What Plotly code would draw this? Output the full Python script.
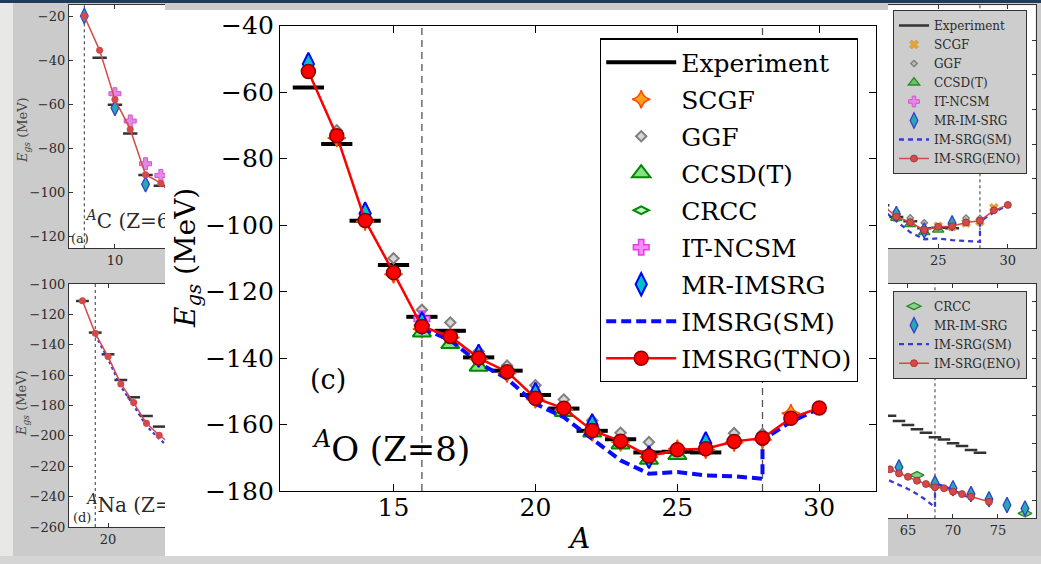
import plotly.graph_objects as go

W, H = 1041, 564


def px(x):
    return x / W


def py(y):
    return 1 - y / H


# ---------------- Oxygen chain (Z=8) ----------------
A_exp = [12, 13, 14, 15, 16, 17, 18, 19, 20, 21, 22, 23, 24, 25, 26]
E_exp = [-58.6, -75.6, -98.7, -112.0, -127.6, -131.8, -139.8, -143.8,
         -151.1, -155.2, -161.9, -164.4, -168.4, -168.2, -168.4]

A_scgf = [13, 14, 15, 16, 17, 18, 19, 20, 21, 22, 23, 24, 25, 26, 27, 28, 29]
E_scgf = [-73.8, -98.9, -114.8, -131.3, -133.8, -140.3, -144.6, -152.4, -155.5,
          -162.3, -165.3, -169.8, -167.3, -167.6, -165.4, -164.6, -156.6]

A_ggf = [13, 15, 16, 17, 18, 19, 20, 21, 22, 23, 24, 27, 28]
E_ggf = [-71.5, -110.0, -125.5, -129.3, -138.0, -142.3, -148.2, -152.5,
         -158.8, -162.5, -165.3, -162.6, -162.8]

A_ccsdt = [16, 17, 18, 21, 22, 23, 24, 25]
E_ccsdt = [-132.3, -135.8, -142.6, -156.2, -162.4, -166.0, -170.6, -169.2]

A_crcc = [16, 22, 24, 28]
E_crcc = [-130.2, -161.8, -168.9, -164.2]

A_ncsm = [16]
E_ncsm = [-128.2]

A_mr = [12, 14, 16, 18, 20, 22, 24, 26]
E_mr = [-51.5, -96.5, -129.5, -139.3, -150.8, -160.2, -169.8, -165.6]

A_sm = [16, 17, 18, 19, 20, 21, 22, 23, 24, 25, 26, 27, 28, 28, 29, 30]
E_sm = [-131.0, -134.6, -141.5, -146.2, -153.8, -157.8, -164.3, -170.8,
        -174.8, -174.3, -175.3, -175.6, -176.3, -164.6, -159.2, -155.2]

A_tno = [12, 13, 14, 15, 16, 17, 18, 19, 20, 21, 22, 23, 24, 25, 26, 27, 28, 29, 30]
E_tno = [-53.8, -73.1, -98.6, -114.3, -130.5, -133.5, -140.0, -144.1, -152.1,
         -155.1, -161.8, -165.0, -169.5, -167.6, -167.3, -165.1, -164.1, -158.1, -155.0]

O_closures = [16, 28]

# ---------------- Carbon chain (Z=6) ----------------
C_A_exp = [9, 10, 11, 12, 13]
C_E_exp = [-39.0, -60.3, -73.4, -92.2, -97.1]
C_A_eno = [8, 9, 10, 11, 12, 13, 14]
C_E_eno = [-20.0, -35.6, -57.9, -71.5, -92.1, -95.9, -103.0]
C_A_mr = [8, 10, 12]
C_E_mr = [-20.0, -61.8, -96.4]
C_A_ncsm = [10, 11, 12, 13]
C_E_ncsm = [-55.3, -67.7, -87.1, -92.4]

# ---------------- Sodium chain (Z=11) ----------------
Na_A_exp = [18, 19, 20, 21, 22, 23, 24]
Na_E_exp = [-111.2, -132.0, -146.3, -163.2, -174.6, -186.9, -193.9]
Na_A_eno = [18, 19, 20, 21, 22, 23, 24, 25]
Na_E_eno = [-111.0, -132.5, -147.8, -165.8, -178.1, -191.7, -199.6, -206.0]
Na_A_sm = [19, 20, 21, 22, 23, 24, 25]
Na_E_sm = [-133.5, -149.3, -167.5, -180.0, -193.5, -202.0, -209.0]

# ---------------- Nickel chain (Z=28) ----------------
Ni_A_exp = [63, 64, 65, 66, 67, 68, 69, 70, 71, 72, 73]
Ni_E_exp = [-560.5, -564.2, -567.1, -570.1, -572.5, -575.7, -577.2, -580.0,
            -581.9, -584.7, -586.6]
Ni_A_eno = [62, 63, 64, 65, 66, 67, 68, 69, 70, 71, 72, 74]
Ni_E_eno = [-595.5, -598.3, -601.2, -603.6, -606.4, -608.7, -611.0, -611.7,
            -614.1, -615.8, -617.7, -621.2]
Ni_A_mr = [64, 68, 70, 72, 74, 76, 78]
Ni_E_mr = [-596.9, -608.2, -611.7, -615.8, -619.5, -623.5, -625.9]
Ni_A_crcc = [66, 68, 78]
Ni_E_crcc = [-602.4, -610.1, -629.4]
Ni_A_sm = [62, 63, 64, 65, 66, 67, 68, 68, 69, 70, 71, 72]
Ni_E_sm = [-603.5, -606.4, -609.4, -612.2, -615.8, -620.0, -625.2, -608.2,
           -610.1, -613.0, -615.8, -618.8]

SERIF = "DejaVu Serif"
BG = "#cbcbcb"
DARK = "#2a2a2a"


def bars(A, E, hw):
    xs, ys = [], []
    for a, e in zip(A, E):
        xs += [a - hw, a + hw, None]
        ys += [e, e, None]
    return xs, ys


fig = go.Figure()

# ================= background panels =================
# (a) carbon
xa, ya = "x2", "y2"
bx, by = bars(C_A_exp, C_E_exp, 0.47)
fig.add_trace(go.Scatter(x=bx, y=by, mode="lines", line=dict(color="#333", width=2.5),
                         xaxis=xa, yaxis=ya, showlegend=False))
fig.add_trace(go.Scatter(x=C_A_ncsm, y=C_E_ncsm, mode="markers", xaxis=xa, yaxis=ya,
                         marker=dict(symbol="cross", size=10, color="#e487e4",
                                     line=dict(color="#d055d0", width=1)), showlegend=False))
fig.add_trace(go.Scatter(x=C_A_mr, y=C_E_mr, mode="markers", xaxis=xa, yaxis=ya,
                         marker=dict(symbol="diamond-tall", size=11, color="#2aa8b0",
                                     line=dict(color="#2d42d0", width=1.3)), showlegend=False))
fig.add_trace(go.Scatter(x=C_A_eno, y=C_E_eno, mode="lines+markers", xaxis=xa, yaxis=ya,
                         line=dict(color="#d44a4a", width=1.5),
                         marker=dict(size=7, color="#d44a4a"), showlegend=False))
fig.add_trace(go.Scatter(x=[8.15, 7.13], y=[-114.0, -121.5], mode="text", xaxis=xa, yaxis=ya,
                         text=["<sup><i>A</i></sup>C (Z=6)", "(a)"],
                         textposition="middle right",
                         textfont=dict(family=SERIF, size=[20, 13], color=DARK),
                         showlegend=False))

# (d) sodium
xa, ya = "x3", "y3"
bx, by = bars(Na_A_exp, Na_E_exp, 0.5)
fig.add_trace(go.Scatter(x=bx, y=by, mode="lines", line=dict(color="#333", width=2.5),
                         xaxis=xa, yaxis=ya, showlegend=False))
fig.add_trace(go.Scatter(x=Na_A_sm, y=Na_E_sm, mode="lines", xaxis=xa, yaxis=ya,
                         line=dict(color="#3838d8", width=2.2, dash="3px,3px"), showlegend=False))
fig.add_trace(go.Scatter(x=Na_A_eno, y=Na_E_eno, mode="lines+markers", xaxis=xa, yaxis=ya,
                         line=dict(color="#d44a4a", width=1.5),
                         marker=dict(size=7, color="#d44a4a"), showlegend=False))
fig.add_trace(go.Scatter(x=[18.38, 17.26], y=[-247.0, -254.5], mode="text", xaxis=xa, yaxis=ya,
                         text=["<sup><i>A</i></sup>Na (Z=11)", "(d)"],
                         textposition="middle right",
                         textfont=dict(family=SERIF, size=[20, 13], color=DARK),
                         showlegend=False))

# (c) oxygen, full-size panel with its own legend
xa, ya = "x4", "y4"
bx, by = bars(A_exp, E_exp, 0.5)
fig.add_trace(go.Scatter(x=bx, y=by, mode="lines", line=dict(color="#333", width=2.5),
                         xaxis=xa, yaxis=ya, name="Experiment", legend="legend2"))
fig.add_trace(go.Scatter(x=A_scgf, y=E_scgf, mode="markers", xaxis=xa, yaxis=ya,
                         name="SCGF", legend="legend2",
                         marker=dict(symbol="x", size=8, color="#e4a23a",
                                     line=dict(color="#d08a20", width=0.5))))
fig.add_trace(go.Scatter(x=A_ggf, y=E_ggf, mode="markers", xaxis=xa, yaxis=ya,
                         name="GGF", legend="legend2",
                         marker=dict(symbol="diamond", size=5, color="#b8b8b8",
                                     line=dict(color="#7a7a7a", width=1.2))))
fig.add_trace(go.Scatter(x=A_ccsdt, y=E_ccsdt, mode="markers", xaxis=xa, yaxis=ya,
                         name="CCSD(T)", legend="legend2",
                         marker=dict(symbol="triangle-up", size=10, color="#68c468",
                                     line=dict(color="#2a8a2a", width=1.3))))
fig.add_trace(go.Scatter(x=A_ncsm, y=E_ncsm, mode="markers", xaxis=xa, yaxis=ya,
                         name="IT-NCSM", legend="legend2",
                         marker=dict(symbol="cross", size=9, color="#e487e4",
                                     line=dict(color="#d055d0", width=1))))
fig.add_trace(go.Scatter(x=A_mr, y=E_mr, mode="markers", xaxis=xa, yaxis=ya,
                         name="MR-IM-SRG", legend="legend2",
                         marker=dict(symbol="diamond-tall", size=11, color="#2aa8b0",
                                     line=dict(color="#2d42d0", width=1.3))))
fig.add_trace(go.Scatter(x=A_sm, y=E_sm, mode="lines", xaxis=xa, yaxis=ya,
                         name="IM-SRG(SM)", legend="legend2",
                         line=dict(color="#3838d8", width=2.3, dash="5px,4px")))
fig.add_trace(go.Scatter(x=A_tno, y=E_tno, mode="lines+markers", xaxis=xa, yaxis=ya,
                         name="IM-SRG(ENO)", legend="legend2",
                         line=dict(color="#d44a4a", width=1.5),
                         marker=dict(size=7, color="#d44a4a",
                                     line=dict(color="#a03030", width=0.8))))

# (f) nickel
xa, ya = "x5", "y5"
bx, by = bars(Ni_A_exp, Ni_E_exp, 0.7)
fig.add_trace(go.Scatter(x=bx, y=by, mode="lines", line=dict(color="#333", width=2.5),
                         xaxis=xa, yaxis=ya, showlegend=False))
fig.add_trace(go.Scatter(x=Ni_A_crcc, y=Ni_E_crcc, mode="markers", xaxis=xa, yaxis=ya,
                         name="CRCC", legend="legend3",
                         marker=dict(symbol="diamond-wide", size=10, color="#8ad08a",
                                     line=dict(color="#2a8a2a", width=1.3))))
fig.add_trace(go.Scatter(x=Ni_A_mr, y=Ni_E_mr, mode="markers", xaxis=xa, yaxis=ya,
                         name="MR-IM-SRG", legend="legend3",
                         marker=dict(symbol="diamond-tall", size=11, color="#2aa8b0",
                                     line=dict(color="#2d42d0", width=1.3))))
fig.add_trace(go.Scatter(x=Ni_A_sm, y=Ni_E_sm, mode="lines", xaxis=xa, yaxis=ya,
                         name="IM-SRG(SM)", legend="legend3",
                         line=dict(color="#3838d8", width=2.3, dash="5px,4px")))
fig.add_trace(go.Scatter(x=Ni_A_eno, y=Ni_E_eno, mode="lines+markers", xaxis=xa, yaxis=ya,
                         name="IM-SRG(ENO)", legend="legend3",
                         line=dict(color="#d44a4a", width=1.5),
                         marker=dict(size=7, color="#d44a4a",
                                     line=dict(color="#a03030", width=0.8))))

# ================= main oxygen panel =================
bx, by = bars(A_exp, E_exp, 0.55)
fig.add_trace(go.Scatter(x=bx, y=by, mode="lines", name="Experiment", legendgroup="g1",
                         line=dict(color="black", width=4)))
fig.add_trace(go.Scatter(x=A_scgf, y=E_scgf, mode="markers", name="SCGF", legendgroup="g2",
                         marker=dict(symbol="star-diamond", size=13, color="#ffa21a",
                                     line=dict(color="#ff4a00", width=1.5))))
fig.add_trace(go.Scatter(x=A_ggf, y=E_ggf, mode="markers", name="GGF", legendgroup="g3",
                         marker=dict(symbol="diamond", size=8, color="#d6d6d6",
                                     line=dict(color="#7f7f7f", width=2))))
fig.add_trace(go.Scatter(x=A_ccsdt, y=E_ccsdt, mode="markers", name="CCSD(T)", legendgroup="g4",
                         marker=dict(symbol="triangle-up", size=16, color="#86e086",
                                     line=dict(color="#008a00", width=2))))
fig.add_trace(go.Scatter(x=A_crcc, y=E_crcc, mode="markers", name="CRCC", legendgroup="g5",
                         marker=dict(symbol="diamond-wide", size=11, color="#c6f0c6",
                                     line=dict(color="#008a00", width=2))))
fig.add_trace(go.Scatter(x=A_ncsm, y=E_ncsm, mode="markers", name="IT-NCSM", legendgroup="g6",
                         marker=dict(symbol="cross", size=13, color="#ff88ff",
                                     line=dict(color="#e040e0", width=1.5))))
fig.add_trace(go.Scatter(x=A_mr, y=E_mr, mode="markers", name="MR-IMSRG", legendgroup="g7",
                         marker=dict(symbol="diamond-tall", size=16, color="#00c0c8",
                                     line=dict(color="#0000ff", width=2))))
fig.add_trace(go.Scatter(x=A_sm, y=E_sm, mode="lines", name="IMSRG(SM)", legendgroup="g8",
                         line=dict(color="#0a0aff", width=4, dash="10px,5px")))
fig.add_trace(go.Scatter(x=A_tno, y=E_tno, mode="lines+markers", name="IMSRG(TNO)",
                         legendgroup="g9",
                         line=dict(color="#ff0000", width=2.5),
                         marker=dict(size=14, color="#ff0000",
                                     line=dict(color="#8b0000", width=1.5))))

# ================= axes =================
tick_main = dict(family=SERIF, size=25, color="black")
tick_bg = dict(family=SERIF, size=13, color=DARK)

main_x = dict(domain=[px(280), px(876)], range=[11, 32], tick0=0, dtick=5,
              ticks="inside", ticklen=7, tickwidth=1.2, tickcolor="black",
              showline=True, linecolor="black", linewidth=1.3, mirror="ticks",
              showgrid=False, zeroline=False, tickfont=tick_main, automargin=False,
              ticklabelstandoff=-6)
main_y = dict(domain=[py(491), py(25.7)], range=[-180, -40], tick0=0, dtick=20,
              ticks="inside", ticklen=7, tickwidth=1.2, tickcolor="black",
              showline=True, linecolor="black", linewidth=1.3, mirror="ticks",
              showgrid=False, zeroline=False, tickfont=tick_main, automargin=False)


def bg_axis(**kw):
    base = dict(ticks="inside", ticklen=4, tickwidth=1, tickcolor="#333",
                showline=True, linecolor="#333", linewidth=1.2,
                showgrid=False, zeroline=False, tickfont=tick_bg, automargin=False)
    base.update(kw)
    return base


fig.update_layout(
    width=W, height=H,
    margin=dict(l=0, r=0, t=0, b=0, pad=0, autoexpand=False),
    paper_bgcolor=BG, plot_bgcolor="white",
    xaxis=main_x, yaxis=main_y,
    # carbon
    xaxis2=bg_axis(domain=[px(69), px(165)], range=[7.0, 13.27], tick0=0, dtick=5,
                   mirror="ticks", anchor="y2"),
    yaxis2=bg_axis(domain=[py(248.3), py(5)], range=[-125.5, -15.0], tick0=0, dtick=20,
                   anchor="x2"),
    # sodium
    xaxis3=bg_axis(domain=[px(69), px(165)], range=[16.95, 24.45], tick0=0, dtick=5,
                   mirror="ticks", anchor="y3"),
    yaxis3=bg_axis(domain=[py(527), py(284)], range=[-260, -100], tick0=0, dtick=20,
                   anchor="x3"),
    # oxygen (full)
    xaxis4=bg_axis(domain=[px(888), px(1035.7)], range=[21.4, 32], tick0=0, dtick=5,
                   mirror="ticks", anchor="y4"),
    yaxis4=bg_axis(domain=[py(248.3), py(5.3)], range=[-180, -40], tick0=0, dtick=20,
                   side="right", showticklabels=False, anchor="x4"),
    # nickel
    xaxis5=bg_axis(domain=[px(888), px(1035.7)], range=[62.78, 79.19], tick0=0, dtick=5,
                   mirror="ticks", anchor="y5"),
    yaxis5=bg_axis(domain=[py(518.3), py(284)], range=[-632.9, -467.5], tick0=0, dtick=20,
                   side="right", showticklabels=False, anchor="x5"),
    legend=dict(x=px(600), y=py(38.3), xanchor="left", yanchor="top",
                bgcolor="white", bordercolor="black", borderwidth=1.2,
                font=dict(family=SERIF, size=25, color="black"),
                tracegroupgap=1.5, itemwidth=70),
    legend2=dict(x=px(893), y=py(10), xanchor="left", yanchor="top",
                 bgcolor="#cdcdcd", bordercolor="#333", borderwidth=1,
                 font=dict(family=SERIF, size=12, color=DARK), tracegroupgap=0),
    legend3=dict(x=px(893), y=py(290.7), xanchor="left", yanchor="top",
                 bgcolor="#cdcdcd", bordercolor="#333", borderwidth=1,
                 font=dict(family=SERIF, size=12, color=DARK), tracegroupgap=0),
    showlegend=True,
)

shapes = [
    # slide frame pieces
    dict(type="rect", xref="paper", yref="paper", x0=0, x1=1, y0=py(3), y1=1,
         fillcolor="#1f3b5e", line=dict(width=0), layer="below"),
    dict(type="rect", xref="paper", yref="paper", x0=0, x1=px(13), y0=0, y1=py(3),
         fillcolor="#e8e9e5", line=dict(width=0), layer="below"),
    dict(type="rect", xref="paper", yref="paper", x0=0, x1=1, y0=0, y1=py(556),
         fillcolor="#d5d5d5", line=dict(width=0), layer="below"),
    # white card behind the main panel
    dict(type="rect", xref="paper", yref="paper", x0=px(165), x1=px(888),
         y0=py(556), y1=py(10), fillcolor="white", line=dict(width=0), layer="below"),
]
for a in O_closures:
    shapes.append(dict(type="line", xref="x", yref="y domain", x0=a, x1=a, y0=0, y1=1,
                       line=dict(color="#555", width=1.3, dash="7px,5px"), layer="below"))
for xr, yr, a in [("x2", "y2 domain", 8), ("x3", "y3 domain", 19),
                  ("x4", "y4 domain", 16), ("x4", "y4 domain", 28),
                  ("x5", "y5 domain", 68)]:
    shapes.append(dict(type="line", xref=xr, yref=yr, x0=a, x1=a, y0=0, y1=1,
                       line=dict(color="#333", width=1, dash="3px,3px"), layer="below"))
fig.update_layout(shapes=shapes)


def note(text, x, y, size, color="black", xanchor="center", angle=0):
    return dict(text=text, x=px(x), y=py(y), xref="paper", yref="paper",
                xanchor=xanchor, yanchor="middle", textangle=angle, showarrow=False,
                font=dict(family=SERIF, size=size, color=color))


annotations = [
    note("(c)", 328, 379, 27),
    note("<sup><i>A</i></sup>O (Z=8)", 310, 447, 34, xanchor="left"),
    note("<i>A</i>", 578, 538, 28),
    note("<i>E<sub>gs</sub></i> (MeV)", 188, 258, 28, angle=-90),
    note("<i>E<sub>gs</sub></i> (MeV)", 23, 130, 13, color="#444", angle=-90),
    note("<i>E<sub>gs</sub></i> (MeV)", 23, 403, 13, color="#444", angle=-90),
]
fig.update_layout(annotations=annotations)

fig.write_html("out.html")
